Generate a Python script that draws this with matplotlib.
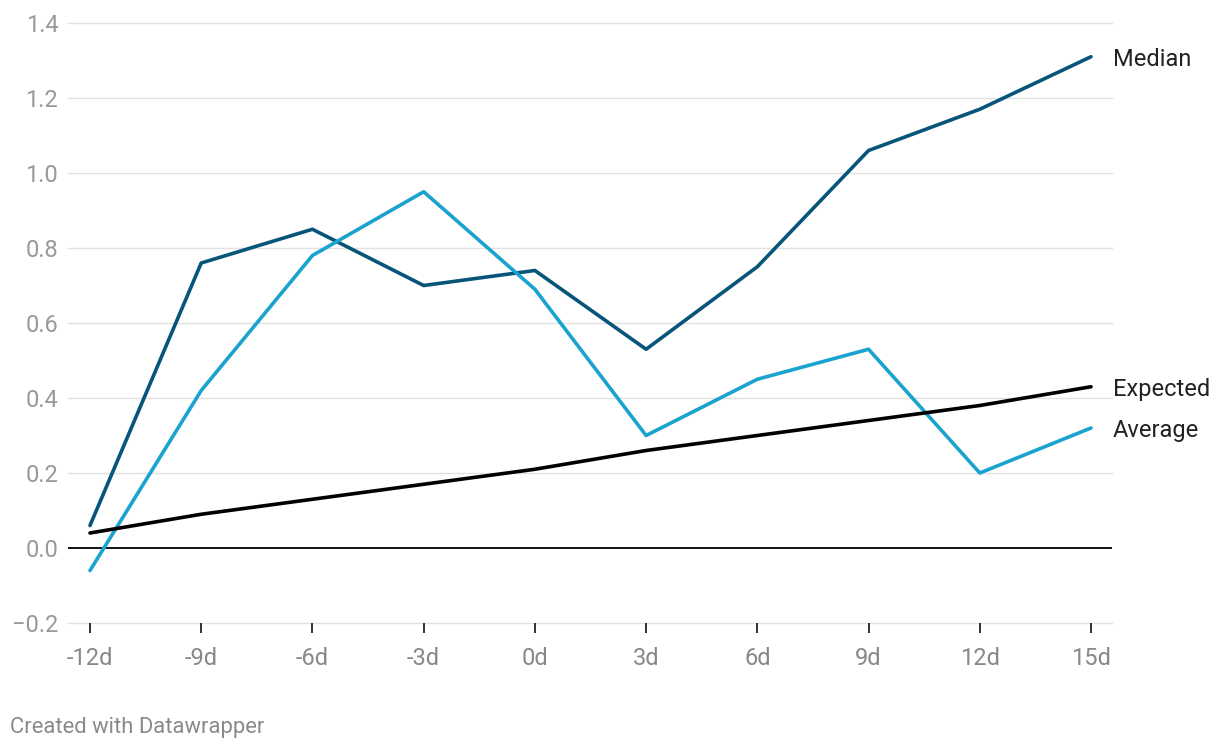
import matplotlib
matplotlib.use("Agg")
from matplotlib import pyplot as plt

# data
days = [-12, -9, -6, -3, 0, 3, 6, 9, 12, 15]
day_labels = ["-12d", "-9d", "-6d", "-3d", "0d", "3d", "6d", "9d", "12d", "15d"]
median = [0.06, 0.76, 0.85, 0.70, 0.74, 0.53, 0.75, 1.06, 1.17, 1.31]
average = [-0.06, 0.42, 0.78, 0.95, 0.69, 0.30, 0.45, 0.53, 0.20, 0.32]
expected = [0.04, 0.09, 0.13, 0.17, 0.21, 0.26, 0.30, 0.34, 0.38, 0.43]
yticks = [-0.2, 0.0, 0.2, 0.4, 0.6, 0.8, 1.0, 1.2, 1.4]

plt.rcParams['font.family'] = ['Roboto', 'DejaVu Sans']

fig = plt.figure(figsize=(12.2, 7.5), dpi=100)
W, H = 1220, 750
ax = fig.add_axes([68 / W, 1 - 623 / H, (1112 - 68) / W, (623 - 23) / H])

ax.set_xlim(-12 - 22 / 37.07, 15 + 21 / 37.07)
ax.set_ylim(-0.2, 1.4)

for y in yticks:
    if y == 0:
        continue
    ax.axhline(y, color="#e1e1e1", lw=1, zorder=0, clip_on=False)
ax.axhline(0, color="black", lw=1.3, zorder=1)

series = [
    ("Median", median, "#08557a"),
    ("Average", average, "#1ba3cf"),
    ("Expected", expected, "black"),
]
for name, vals, col in series:
    ax.plot(days, vals, color=col, lw=2.6, solid_capstyle="round", zorder=3, clip_on=False)

# labels at line ends, nudged down a little
for name, vals, col in series:
    ax.annotate(name, xy=(days[-1], vals[-1]), xytext=(15.5, -2),
                textcoords="offset points", va="center", ha="left",
                fontsize=17, color="#222222", annotation_clip=False)

for sp in ax.spines.values():
    sp.set_visible(False)

ax.set_yticks(yticks)
ax.set_yticklabels([f"{y:.1f}".replace("-", "\u2212") for y in yticks])
ax.set_xticks(days)
ax.set_xticklabels(day_labels)
ax.tick_params(axis="y", length=0, pad=7, labelsize=17, labelcolor="#999999")
ax.tick_params(axis="x", length=7, width=1.3, color="#222222", direction="out",
               pad=10, labelsize=17, labelcolor="#888888")

fig.text(10 / W, 1 - 727 / H, "Created with Datawrapper", fontsize=15.8,
         color="#8a8a8a", va="center", ha="left")

fig.savefig("out.png", dpi=100, facecolor="white")
